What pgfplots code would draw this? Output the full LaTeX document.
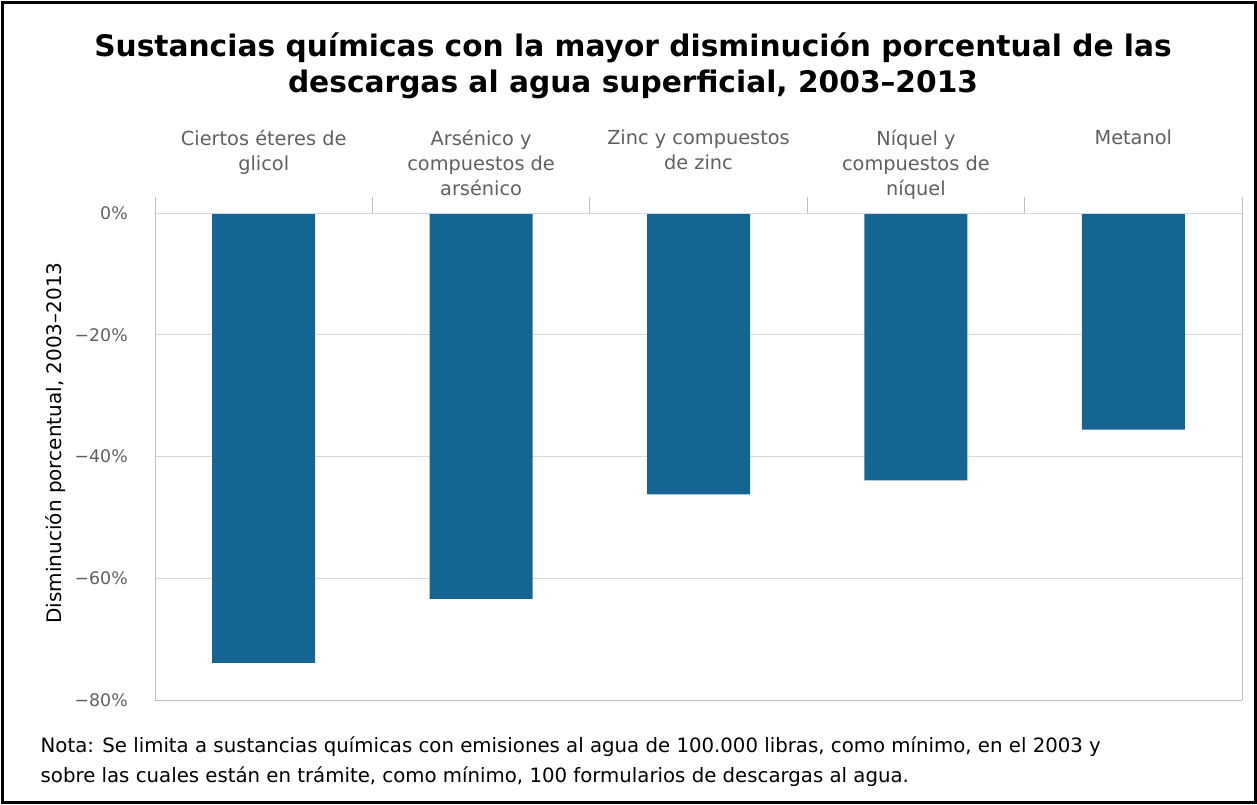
\documentclass[border=0pt]{standalone}
\usepackage{pgfplots}
\pgfplotsset{compat=1.18}
\usepackage{fontspec}
\setmainfont{DejaVu Sans}
\definecolor{barblue}{RGB}{21,101,146}
\definecolor{gridgray}{RGB}{216,216,216}
\definecolor{axisgray}{RGB}{192,192,192}
\definecolor{zeroblue}{RGB}{204,214,235}
\definecolor{labgray}{RGB}{96,96,96}
\begin{document}
\begin{tikzpicture}
\useasboundingbox (0,0) rectangle (942.75pt,-603pt);
\draw[line width=2.25pt] (1.5pt,-1.5pt) rectangle (941.25pt,-601.5pt);
\node[align=center, font=\fontsize{22.25pt}{26.5pt}\selectfont\bfseries, anchor=base] at (474.75pt,-69pt)
  {Sustancias químicas con la mayor disminución porcentual de las\\descargas al agua superficial, 2003–2013};
\node[rotate=90, font=\fontsize{15pt}{18pt}\selectfont, anchor=center] at (41.5pt,-332.25pt)
  {Disminución porcentual, 2003–2013};
\begin{axis}[
  at={(116.25pt,-525pt)}, anchor=south west,
  scale only axis, width=815.25pt, height=365.25pt,
  xmin=-0.5, xmax=4.5, ymin=-80, ymax=0,
  axis line style={draw=none},
  xtick={0,1,2,3,4},
  xticklabels={{Ciertos éteres de\\glicol},{Arsénico y\\compuestos de\\arsénico},{Zinc y compuestos\\de zinc},{Níquel y\\compuestos de\\níquel},{Metanol}},
  xticklabel pos=upper,
  xtick pos=upper,
  x tick label style={anchor=north, align=center, inner sep=0pt, yshift=62.25pt, text=labgray,
     font=\fontsize{14.5pt}{18.75pt}\selectfont},
  major x tick style={draw=none},
  minor xtick={-0.5,0.5,1.5,2.5,3.5,4.5},
  minor x tick style={draw=axisgray, line width=0.75pt},
  minor tick length=12pt,
  tick align=outside,
  ytick={-80,-60,-40,-20,0},
  yticklabels={−80\%,−60\%,−40\%,−20\%,0\%},
  y tick label style={anchor=east, inner sep=0pt, xshift=-20.25pt, text=labgray,
     font=\fontsize{13pt}{15pt}\selectfont},
  major y tick style={draw=none},
  major tick length=0pt,
  ymajorgrids, grid style={gridgray, line width=0.75pt},
  ybar, bar width=77.25pt,
  clip=false,
]
\addplot[fill=barblue, draw=none] coordinates {(0,-73.9) (1,-63.4) (2,-46.2) (3,-43.9) (4,-35.6)};
\draw[axisgray, line width=0.75pt] (rel axis cs:0,0) -- (rel axis cs:1,0);
\draw[axisgray, line width=0.75pt] (rel axis cs:0,0) -- (rel axis cs:0,1);
\draw[axisgray, line width=0.75pt] (rel axis cs:1,0) -- (rel axis cs:1,1);
\draw[zeroblue, line width=0.75pt] (rel axis cs:0,1) -- (rel axis cs:1,1);
\end{axis}
\node[align=left, anchor=base west, font=\fontsize{14.8pt}{23pt}\selectfont] at (27pt,-587pt)
  {Nota: Se limita a sustancias químicas con emisiones al agua de 100.000 libras, como mínimo, en el 2003 y\\sobre las cuales están en trámite, como mínimo, 100 formularios de descargas al agua.};
\end{tikzpicture}
\end{document}
